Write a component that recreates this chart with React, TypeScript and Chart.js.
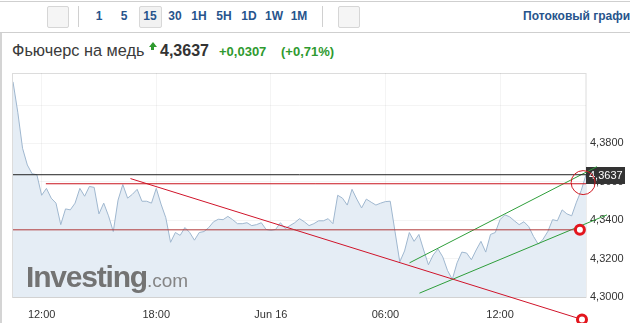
import React, { useEffect, useRef } from "react";
import { Chart, registerables } from "chart.js";

Chart.register(...registerables);

const FONT = "Arial, 'Liberation Sans', sans-serif";

// Time in hours since Jun 15 00:00, one point every 15 minutes
const startHour = 10.5;
const stepHours = 0.25;

const prices = [
  4.4121, 4.3963, 4.3775, 4.3688, 4.3642, 4.3637, 4.3530, 4.3566, 4.3515, 4.3489,
  4.3377, 4.3459, 4.3454, 4.3489, 4.3566, 4.3525, 4.3576, 4.3571, 4.3433, 4.3489,
  4.3423, 4.3341, 4.3505, 4.3586, 4.3515, 4.3535, 4.3561, 4.3499, 4.3499, 4.3489,
  4.3566, 4.3484, 4.3413, 4.3285, 4.3336, 4.3321, 4.3362, 4.3336, 4.3296, 4.3336,
  4.3341, 4.3362, 4.3392, 4.3405, 4.3403, 4.3420, 4.3403, 4.3382, 4.3382, 4.3387,
  4.3372, 4.3377, 4.3387, 4.3352, 4.3347, 4.3352, 4.3387, 4.3357, 4.3372, 4.3387,
  4.3408, 4.3392, 4.3372, 4.3382, 4.3397, 4.3397, 4.3408, 4.3382, 4.3530, 4.3515,
  4.3479, 4.3561, 4.3510, 4.3464, 4.3510, 4.3494, 4.3479, 4.3489, 4.3497, 4.3499,
  4.3341, 4.3183, 4.3240, 4.3336, 4.3290, 4.3326, 4.3245, 4.3168, 4.3219, 4.3250,
  4.3209, 4.3138, 4.3092, 4.3178, 4.3234, 4.3229, 4.3194, 4.3245, 4.3290, 4.3234,
  4.3326, 4.3336, 4.3403, 4.3428, 4.3418, 4.3397, 4.3377, 4.3392, 4.3367, 4.3316,
  4.3275, 4.3301, 4.3341, 4.3403, 4.3397, 4.3454, 4.3433, 4.3423, 4.3494, 4.3555,
  4.3637,
];
const times = prices.map((_, i) => startHour + i * stepHours);

const xTickHours = [12, 18, 24, 30, 36];
const xTickLabels = ["12:00", "18:00", "Jun 16", "06:00", "12:00"];
const yTickValues = [4.3, 4.32, 4.34, 4.36, 4.38, 4.4];
const yTickLabels = ["4,3000", "4,3200", "4,3400", "4,3600", "4,3800", ""];
const xMin = 10.5;
const xMax = 40.5;
const yMin = 4.3;
const yMax = 4.4167;

const lastPrice = 4.3637;
const lastPriceLabel = "4,3637";
const resistanceLevel = 4.359;
const resistanceStart = 12.22;
const supportLevel = 4.335;
const downTrendTimes = [16.65, 40.29];
const downTrendPrices = [4.3617, 4.2883];
const channelUpperTimes = [31.26, 41.07];
const channelUpperPrices = [4.3178, 4.3679];
const channelLowerTimes = [31.78, 41.6];
const channelLowerPrices = [4.302, 4.3428];
const ringTimes = [40.18, 40.29];
const ringPrices = [4.335, 4.2883];
const bigCircleTime = [40.35];
const bigCirclePrice = [4.3596];

const toolbarItems = [
  { t: "1", x: 99 },
  { t: "5", x: 124 },
  { t: "15", x: 150 },
  { t: "30", x: 175 },
  { t: "1H", x: 199 },
  { t: "5H", x: 224 },
  { t: "1D", x: 249 },
  { t: "1W", x: 274 },
  { t: "1M", x: 299 },
];

const pts = (xs: number[], ys: number[]) => xs.map((x, i) => ({ x, y: ys[i] }));

export default function App() {
  const ref = useRef<HTMLCanvasElement>(null);

  useEffect(() => {
    const canvas = ref.current;
    if (!canvas) return;

    const framePlugin = {
      id: "frame",
      beforeDraw(chart: any) {
        const { ctx, chartArea: a } = chart;
        ctx.save();
        ctx.strokeStyle = "#dcdcdc";
        ctx.lineWidth = 1;
        ctx.strokeRect(a.left - 0.5, a.top + 0.5, a.right - a.left + 0.5, a.bottom - a.top);
        ctx.restore();
      },
      beforeDatasetsDraw(chart: any) {
        const { ctx, chartArea: a } = chart;
        const y = chart.scales.y.getPixelForValue(lastPrice);
        ctx.save();
        ctx.fillStyle = "#333333";
        ctx.fillRect(a.right, Math.round(y) - 8, 39, 17);
        ctx.fillStyle = "#ffffff";
        ctx.font = "11px " + FONT;
        ctx.textBaseline = "middle";
        ctx.textAlign = "left";
        ctx.fillText(lastPriceLabel, a.right + 3, Math.round(y) + 0.5);
        ctx.restore();
      },
      afterDatasetsDraw(chart: any) {
        const { ctx, scales } = chart;
        ctx.save();
        ctx.lineWidth = 3;
        ctx.strokeStyle = "#e3161e";
        ctx.fillStyle = "#ffffff";
        ringTimes.forEach((t, i) => {
          const px = scales.x.getPixelForValue(t);
          const py = scales.y.getPixelForValue(ringPrices[i]);
          ctx.beginPath();
          ctx.arc(px, py, 4.5, 0, Math.PI * 2);
          ctx.fill();
          ctx.stroke();
        });
        ctx.restore();
      },
    };

    const chart = new Chart(canvas, {
      type: "line",
      data: {
        datasets: [
          {
            data: pts(times, prices),
            borderColor: "#9fb7cf",
            borderWidth: 1,
            backgroundColor: "#e5edf5",
            fill: "start",
            pointRadius: 0,
            tension: 0,
            order: 10,
          },
          {
            data: pts([xMin, xMax], [lastPrice, lastPrice]),
            borderColor: "#222222",
            borderWidth: 1,
            pointRadius: 0,
            fill: false,
            order: 5,
          },
          {
            data: pts([resistanceStart, xMax], [resistanceLevel, resistanceLevel]),
            borderColor: "#c8141e",
            borderWidth: 1,
            pointRadius: 0,
            fill: false,
            order: 5,
          },
          {
            data: pts([xMin, ringTimes[0]], [supportLevel, supportLevel]),
            borderColor: "#b03a3a",
            borderWidth: 1,
            pointRadius: 0,
            fill: false,
            order: 5,
          },
          {
            data: pts(downTrendTimes, downTrendPrices),
            borderColor: "#d0142a",
            borderWidth: 1,
            pointRadius: 0,
            fill: false,
            clip: false,
            order: 5,
          },
          {
            data: pts(channelUpperTimes, channelUpperPrices),
            borderColor: "#2e9e3a",
            borderWidth: 1,
            pointRadius: 0,
            fill: false,
            clip: false,
            order: 5,
          },
          {
            data: pts(channelLowerTimes, channelLowerPrices),
            borderColor: "#2e9e3a",
            borderWidth: 1,
            pointRadius: 0,
            fill: false,
            clip: false,
            order: 5,
          },
          {
            data: pts(bigCircleTime, bigCirclePrice),
            showLine: false,
            pointRadius: 12,
            pointBorderWidth: 1,
            pointBorderColor: "#d01a22",
            pointBackgroundColor: "rgba(0,0,0,0)",
            clip: false,
            order: 1,
          },
        ],
      },
      options: {
        responsive: false,
        animation: false,
        events: [],
        layout: { padding: { left: 12, top: 8, right: 0, bottom: 0 } },
        plugins: { legend: { display: false }, tooltip: { enabled: false } },
        scales: {
          x: {
            type: "linear",
            position: "bottom",
            min: xMin,
            max: xMax,
            afterBuildTicks: (s: any) => {
              s.ticks = xTickHours.map((v) => ({ value: v }));
            },
            afterFit: (s: any) => {
              s.height = 26;
            },
            grid: { color: "rgba(0,0,0,0.045)", drawTicks: false },
            border: { display: false },
            ticks: {
              padding: 11,
              color: "#333333",
              font: { size: 11, family: FONT },
              maxRotation: 0,
              autoSkip: false,
              callback: (_v: any, i: number) => xTickLabels[i],
            },
          },
          y: {
            position: "right",
            min: yMin,
            max: yMax,
            afterBuildTicks: (s: any) => {
              s.ticks = yTickValues.map((v) => ({ value: v }));
            },
            afterFit: (s: any) => {
              s.width = 44;
            },
            grid: { color: "rgba(0,0,0,0.045)", drawTicks: false },
            border: { display: false },
            ticks: {
              padding: 4,
              color: "#333333",
              font: { size: 11, family: FONT },
              callback: (_v: any, i: number) => yTickLabels[i],
            },
          },
        },
      },
      plugins: [framePlugin],
    } as any);

    return () => chart.destroy();
  }, []);

  const abs = (s: any): React.CSSProperties => ({ position: "absolute", ...s });

  return (
    <div
      style={{
        position: "fixed",
        left: 0,
        top: 0,
        width: 630,
        height: 323,
        overflow: "hidden",
        background: "#fff",
        fontFamily: FONT,
      }}
    >
      {/* toolbar */}
      <div style={abs({ left: 0, top: 1, width: 630, height: 0, borderTop: "1px solid #cfcfcf" })} />
      <div style={abs({ left: 0, top: 32, width: 630, height: 0, borderTop: "1px solid #cfcfcf" })} />
      <div style={abs({ left: 47, top: 6, width: 20, height: 20, background: "#f5f5f5", border: "1px solid #d6d6d6", borderRadius: 2 })} />
      <div style={abs({ left: 78, top: 6, width: 1, height: 21, background: "#d0d0d0" })} />
      <div style={abs({ left: 139, top: 6, width: 21, height: 20, background: "#f2f2f2", border: "1px solid #d8d8d8", borderRadius: 2 })} />
      <div style={abs({ left: 322, top: 6, width: 1, height: 21, background: "#d0d0d0" })} />
      <div style={abs({ left: 338, top: 6, width: 20, height: 20, background: "#f5f5f5", border: "1px solid #d6d6d6", borderRadius: 2 })} />
      {toolbarItems.map((it, i) => (
        <span
          key={i}
          style={abs({
            left: it.x,
            top: 9,
            transform: "translateX(-50%)",
            fontSize: 12,
            lineHeight: "14px",
            fontWeight: "bold",
            color: "#27548c",
            whiteSpace: "nowrap",
          })}
        >
          {it.t}
        </span>
      ))}
      <span style={abs({ left: 523, top: 9, fontSize: 12, lineHeight: "14px", fontWeight: "bold", color: "#27548c", whiteSpace: "nowrap" })}>
        Потоковый график
      </span>

      {/* title */}
      <span style={abs({ left: 12, top: 41, fontSize: 16.3, lineHeight: "19px", color: "#3a3a3a", whiteSpace: "nowrap" })}>
        Фьючерс на медь
      </span>
      <div style={abs({ left: 148.5, top: 42, width: 0, height: 0, borderLeft: "4px solid transparent", borderRight: "4px solid transparent", borderBottom: "5px solid #2e9a2e" })} />
      <div style={abs({ left: 151, top: 47, width: 3, height: 3, background: "#2e9a2e" })} />
      <span style={abs({ left: 160, top: 42, fontSize: 16, lineHeight: "18px", fontWeight: "bold", color: "#333", whiteSpace: "nowrap" })}>
        4,3637
      </span>
      <span style={abs({ left: 219, top: 44, fontSize: 13, lineHeight: "15px", fontWeight: "bold", color: "#2f9a2f", whiteSpace: "nowrap" })}>
        +0,0307
      </span>
      <span style={abs({ left: 281, top: 44, fontSize: 13, lineHeight: "15px", fontWeight: "bold", color: "#2f9a2f", whiteSpace: "nowrap" })}>
        (+0,71%)
      </span>

      {/* left border */}
      <div style={abs({ left: 0, top: 33, width: 2, height: 290, background: "#d4d4d4" })} />

      <canvas ref={ref} width={630} height={263} style={abs({ left: 0, top: 60, width: 630, height: 263 })} />

      {/* watermark */}
      <div style={abs({ left: 26, top: 261, whiteSpace: "nowrap", pointerEvents: "none", lineHeight: "32px" })}>
        <span style={{ fontSize: 30, fontWeight: "bold", color: "#737373", letterSpacing: -1.2 }}>Investing</span>
        <span style={{ fontSize: 19, color: "#858585" }}>.com</span>
      </div>
    </div>
  );
}
